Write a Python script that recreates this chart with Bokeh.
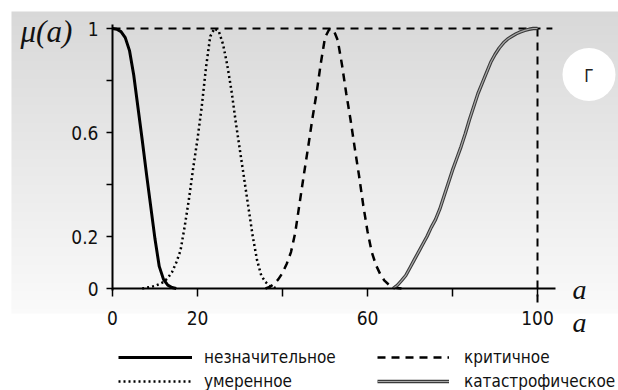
import numpy as np
from bokeh.plotting import figure
from bokeh.models import Range1d, LinearAxis, FixedTicker, Legend, LegendItem, Label
from bokeh.embed import file_html
from bokeh.resources import INLINE

# ---------------- data ----------------
a_insig = [0, 1, 2, 3, 4, 5, 6, 7, 8, 9, 10, 11, 12, 13, 14, 15]
mu_insig = [1.0, 0.997, 0.988, 0.965, 0.915, 0.82, 0.695, 0.57, 0.44, 0.315, 0.19,
            0.085, 0.035, 0.013, 0.004, 0.0]

a_mod = list(range(7, 40))
mu_mod = [0.0, 0.003, 0.006, 0.01, 0.017, 0.025, 0.04, 0.063, 0.10, 0.146, 0.24, 0.345,
          0.465, 0.575, 0.70, 0.85, 0.97, 1.0, 0.99, 0.94, 0.86, 0.76, 0.64, 0.53, 0.42,
          0.31, 0.20, 0.11, 0.05, 0.025, 0.01, 0.004, 0.0]

a_crit = list(range(36, 69))
mu_crit = [0.0, 0.006, 0.018, 0.035, 0.06, 0.095, 0.14, 0.215, 0.325, 0.435, 0.54, 0.65,
           0.75, 0.865, 0.965, 0.997, 0.995, 0.955, 0.86, 0.75, 0.65, 0.54, 0.435, 0.32,
           0.22, 0.14, 0.09, 0.055, 0.03, 0.015, 0.007, 0.002, 0.0]

a_cat = list(range(66, 101))
mu_cat = [0.0, 0.012, 0.03, 0.05, 0.08, 0.11, 0.14, 0.17, 0.2, 0.235, 0.265, 0.305, 0.355,
          0.405, 0.455, 0.5, 0.545, 0.595, 0.65, 0.7, 0.75, 0.79, 0.83, 0.87, 0.9, 0.925,
          0.945, 0.96, 0.97, 0.98, 0.987, 0.993, 0.997, 1.0, 1.0]

ref_h_x = [0, 103.5]
ref_h_y = [1, 1]
ref_v_x = [100, 100]
ref_v_y = [1, -0.055]

x_ticks = [0, 20, 40, 60, 80, 100]
x_tick_labels = ["0", "20", "", "60", "", "100"]
y_ticks = [0, 0.2, 0.4, 0.6, 0.8, 1]
y_tick_labels = ["0", "0.2", "", "0.6", "", "1"]

series_names = ["незначительное", "умеренное", "критичное", "катастрофическое"]

# ---------------- layout helpers ----------------
W, H = 618, 390
X0PX, XS = 112.0, 4.25
Y0PX, YS = 288.0, 260.0


def ax(px):
    return (px - X0PX) / XS


def ay(py):
    return (Y0PX - py) / YS


NARROW = "DejaVu Sans Condensed"
SERIF = "Liberation Serif"

p = figure(width=W, height=H, x_range=Range1d(ax(0), ax(W)), y_range=Range1d(ay(H), ay(0)),
           output_backend="svg", toolbar_location=None, x_axis_location=None,
           y_axis_location=None, min_border=0, outline_line_color=None,
           background_fill_color="white", border_fill_color="white")
p.grid.visible = False

# background gradient panel
n = 302
levels = np.linspace(250, 216, n).round().astype(np.uint8)
img = np.empty((n, 1), dtype=np.uint32)
view = img.view(dtype=np.uint8).reshape((n, 1, 4))
view[:, 0, 0] = levels
view[:, 0, 1] = levels
view[:, 0, 2] = levels
view[:, 0, 3] = 255
p.image_rgba(image=[img], x=ax(11), y=ay(313), dw=ax(W) - ax(11), dh=ay(11) - ay(313))

# white circle with label
p.scatter(x=[ax(588.5)], y=[ay(74)], size=53, marker="circle", fill_color="white",
          line_color=None)

# reference dashed lines
p.line(ref_h_x, ref_h_y, line_color="black", line_width=2, line_dash="8 6")
p.line(ref_v_x, ref_v_y, line_color="black", line_width=2, line_dash="8 6")

# curves
r1 = p.line(a_insig, mu_insig, line_color="black", line_width=3)
r2 = p.line(a_mod, mu_mod, line_color="black", line_width=2.5, line_dash="2 3")
r3 = p.line(a_crit, mu_crit, line_color="black", line_width=2.5, line_dash="8 6")
r4a = p.line(a_cat, mu_cat, line_color="#3a3a3a", line_width=3.4)
r4b = p.line(a_cat, mu_cat, line_color="#a8a8a8", line_width=1.2)

# axes
xaxis = LinearAxis(fixed_location=0, bounds=(0, 104.2), ticker=FixedTicker(ticks=x_ticks),
                   major_label_overrides={t: l for t, l in zip(x_ticks, x_tick_labels)})
yaxis = LinearAxis(fixed_location=0, bounds=(-0.008, 1.015), ticker=FixedTicker(ticks=y_ticks),
                   major_label_overrides={t: l for t, l in zip(y_ticks, y_tick_labels)})
for axis in (xaxis, yaxis):
    axis.axis_line_width = 2
    axis.axis_line_color = "black"
    axis.major_tick_line_width = 1.5
    axis.major_tick_line_color = "black"
    axis.major_tick_in = 0
    axis.minor_tick_in = 0
    axis.minor_tick_out = 0
    axis.major_label_text_font = NARROW
    axis.major_label_text_font_size = "19px"
    axis.major_label_text_color = "#111111"
xaxis.major_tick_out = 8
xaxis.major_label_standoff = 14
yaxis.major_tick_out = 6
yaxis.major_label_standoff = 8
p.add_layout(xaxis, "below")
p.add_layout(yaxis, "left")

# legends
common = dict(orientation="vertical", glyph_height=24, label_height=24, spacing=0, padding=0,
              margin=0, border_line_color=None, background_fill_alpha=0,
              label_text_font=NARROW, label_text_font_size="17px", label_text_color="#111111")
leg1 = Legend(items=[LegendItem(label=series_names[0], renderers=[r1]),
                     LegendItem(label=series_names[1], renderers=[r2])],
              location=(118, -3), glyph_width=74, label_standoff=12, **common)
leg2 = Legend(items=[LegendItem(label=series_names[2], renderers=[r3]),
                     LegendItem(label=series_names[3], renderers=[r4a, r4b])],
              location=(377, -3), glyph_width=72, label_standoff=15, **common)
p.add_layout(leg1)
p.add_layout(leg2)

# labels
p.add_layout(Label(x=ax(20), y=ay(31), text="μ(a)", text_font=SERIF, text_font_style="italic",
                   text_font_size="31px", text_baseline="middle", text_align="left",
                   text_color="#111111"))
p.add_layout(Label(x=ax(572), y=ay(289), text="a", text_font=SERIF, text_font_style="italic",
                   text_font_size="28px", text_baseline="middle", text_align="left",
                   text_color="#111111"))
p.add_layout(Label(x=ax(572), y=ay(322), text="a", text_font=SERIF, text_font_style="italic",
                   text_font_size="28px", text_baseline="middle", text_align="left",
                   text_color="#111111"))
p.add_layout(Label(x=ax(588.5), y=ay(75), text="Г", text_font=NARROW, text_font_size="17px",
                   text_baseline="middle", text_align="center", text_color="#222222"))

open("out.html", "w").write(file_html(p, INLINE))
